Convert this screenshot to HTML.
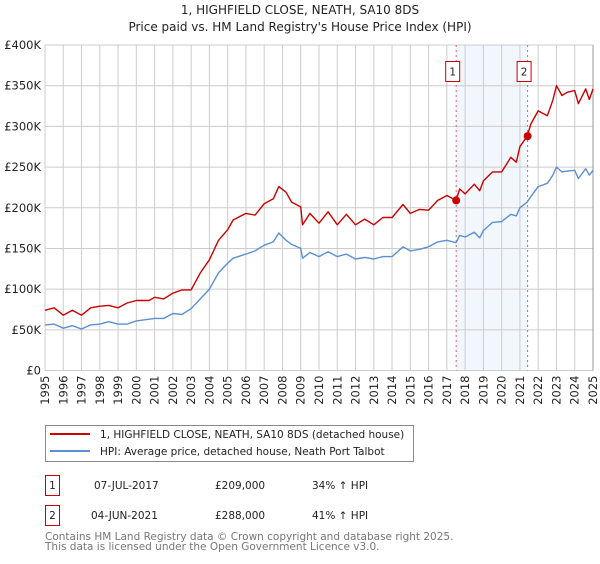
<!DOCTYPE html>
<html><head><meta charset="utf-8"><style>
body{margin:0;background:#fff;font-family:"DejaVu Sans","Liberation Sans",sans-serif;}
svg text{font-family:"DejaVu Sans","Liberation Sans",sans-serif;}
</style></head><body>
<svg id="c" width="600" height="560" viewBox="0 0 600 560" xmlns="http://www.w3.org/2000/svg">
<text x="300" y="14" text-anchor="middle" font-size="12" fill="#222">1, HIGHFIELD CLOSE, NEATH, SA10 8DS</text>
<text x="300" y="31" text-anchor="middle" font-size="12" fill="#222">Price paid vs. HM Land Registry's House Price Index (HPI)</text>
<g id="grid"></g><g id="marks"></g><g id="axes"></g>
<g>
<rect x="45.5" y="425.5" width="368" height="36" fill="#fff" stroke="#888"/>
<line x1="50" y1="434" x2="90" y2="434" stroke="#cc0000" stroke-width="2"/>
<text x="100" y="438" font-size="10.5" fill="#222">1, HIGHFIELD CLOSE, NEATH, SA10 8DS (detached house)</text>
<line x1="50" y1="451" x2="90" y2="451" stroke="#5b8fd4" stroke-width="2"/>
<text x="100" y="455" font-size="10.5" fill="#222">HPI: Average price, detached house, Neath Port Talbot</text>
</g>
<g font-size="10.5" fill="#222">
<rect x="45.5" y="475.5" width="14" height="20" fill="#fff" stroke="#cc0000"/>
<text x="52.5" y="489" text-anchor="middle">1</text>
<text x="94" y="489">07-JUL-2017</text><text x="215" y="489">£209,000</text><text x="312" y="489">34% ↑ HPI</text>
<rect x="45.5" y="505.5" width="14" height="20" fill="#fff" stroke="#cc0000"/>
<text x="52.5" y="519" text-anchor="middle">2</text>
<text x="91" y="519">04-JUN-2021</text><text x="215" y="519">£288,000</text><text x="312" y="519">41% ↑ HPI</text>
</g>
<text x="45" y="540" font-size="10.5" fill="#777">Contains HM Land Registry data © Crown copyright and database right 2025.</text>
<text x="45" y="550" font-size="10.5" fill="#777">This data is licensed under the Open Government Licence v3.0.</text>
</svg>
<script>
const years=[1995,1995.5,1996,1996.5,1997,1997.5,1998,1998.5,1999,1999.5,2000,2000.7,2001,2001.5,2002,2002.5,2003,2003.5,2004,2004.5,2005,2005.3,2006,2006.5,2007,2007.5,2007.8,2008.2,2008.5,2009,2009.1,2009.5,2010,2010.5,2011,2011.5,2012,2012.5,2013,2013.5,2014,2014.6,2015,2015.5,2016,2016.5,2017,2017.5,2017.7,2018,2018.5,2018.8,2019,2019.5,2020,2020.5,2020.8,2021,2021.4,2021.6,2022,2022.5,2022.8,2023,2023.3,2023.6,2024,2024.2,2024.6,2024.8,2025];
const hpiValues=[56,57,52,55,51,56,57,60,57,57,61,63,64,64,70,69,76,88,100,120,132,138,143,147,154,158,169,160,155,150,138,145,140,146,140,143,137,139,137,140,140,152,147,149,152,158,160,157,166,164,170,163,172,182,183,192,190,200,207,214,226,230,240,250,244,245,246,236,248,240,246];
const propertyValues=[74,77,68,74,68,77,79,80,77,83,86,86,90,88,95,99,99,120,136,160,173,185,193,191,205,211,226,219,207,201,179,193,181,195,179,192,179,186,179,188,188,204,193,198,197,209,215,209,223,217,229,221,233,244,244,262,256,275,288,303,319,313,332,350,338,342,344,328,346,333,346];
const saleYears=[2017.51,2021.42];
const saleValues=[209,288];
const saleLabels=["1","2"];
const yTicks=[0,50,100,150,200,250,300,350,400];
const yTickLabels=["£0","£50K","£100K","£150K","£200K","£250K","£300K","£350K","£400K"];
const xTicks=[1995,1996,1997,1998,1999,2000,2001,2002,2003,2004,2005,2006,2007,2008,2009,2010,2011,2012,2013,2014,2015,2016,2017,2018,2019,2020,2021,2022,2023,2024,2025];

const X0=45,X1=593,Y0=370.5,Y1=45;
const xs=y=>X0+(y-1995)/30*(X1-X0);
const ys=v=>Y0-v/400*(Y0-Y1);
const NS="http://www.w3.org/2000/svg";
function mk(tag,attrs,parent){const e=document.createElementNS(NS,tag);for(const k in attrs)e.setAttribute(k,attrs[k]);parent.appendChild(e);return e;}
const grid=document.getElementById('grid'),marks=document.getElementById('marks'),axes=document.getElementById('axes');
const band=mk('rect',{x:xs(saleYears[0]),y:Y1,width:xs(saleYears[1])-xs(saleYears[0]),height:Y0-Y1,fill:'#f2f6fd'},grid);


yTicks.forEach((t,i)=>{
  const l=mk('line',{x1:X0,x2:X1,y1:ys(t),y2:ys(t),stroke:'#ccc'},grid);
  
  
  const tx=mk('text',{x:X0-4,y:ys(t)+4,'text-anchor':'end','font-size':'11.5',fill:'#222'},axes);
  tx.textContent=yTickLabels[i];
  
  
});
xTicks.forEach(t=>{
  const l=mk('line',{x1:xs(t),x2:xs(t),y1:Y1,y2:Y0,stroke:'#ccc'},grid);
  
  
  const tx=mk('text',{x:0,y:0,'text-anchor':'end','font-size':'11.5',fill:'#222',transform:`translate(${xs(t)+4},${Y0+5}) rotate(-90)`},axes);
  tx.textContent=t;
  
  
});
const edge=mk('line',{x1:X1,x2:X1,y1:Y1,y2:Y0,stroke:'#999'},grid);


saleYears.forEach((s,i)=>{
  const l=mk('line',{x1:xs(s),x2:xs(s),y1:Y1,y2:Y0,stroke:'#e06060','stroke-dasharray':'2,3'},marks);
  
  
});
function path(vals,color,name){
  const d=years.map((y,i)=>(i?'L':'M')+xs(y).toFixed(1)+','+ys(vals[i]).toFixed(1)).join('');
  const p=mk('path',{d:d,fill:'none',stroke:color,'stroke-width':1.4,'stroke-linejoin':'round'},marks);
  
  
}
path(hpiValues,'#5b8fd4','hpi-line');
path(propertyValues,'#cc0000','property-price-line');
saleYears.forEach((s,i)=>{
  const c=mk('circle',{cx:xs(s),cy:ys(saleValues[i]),r:4,fill:'#cc0000'},marks);
  
  
  const bx=xs(s)-3.5;
  const r=mk('rect',{x:bx-7,y:61.5,width:14,height:20,fill:'#fff',stroke:'#cc0000'},marks);
  
  
  const t=mk('text',{x:bx,y:75.5,'text-anchor':'middle','font-size':'10.5',fill:'#222'},marks);
  t.textContent=saleLabels[i];
  
  
});
</script>
</body></html>
